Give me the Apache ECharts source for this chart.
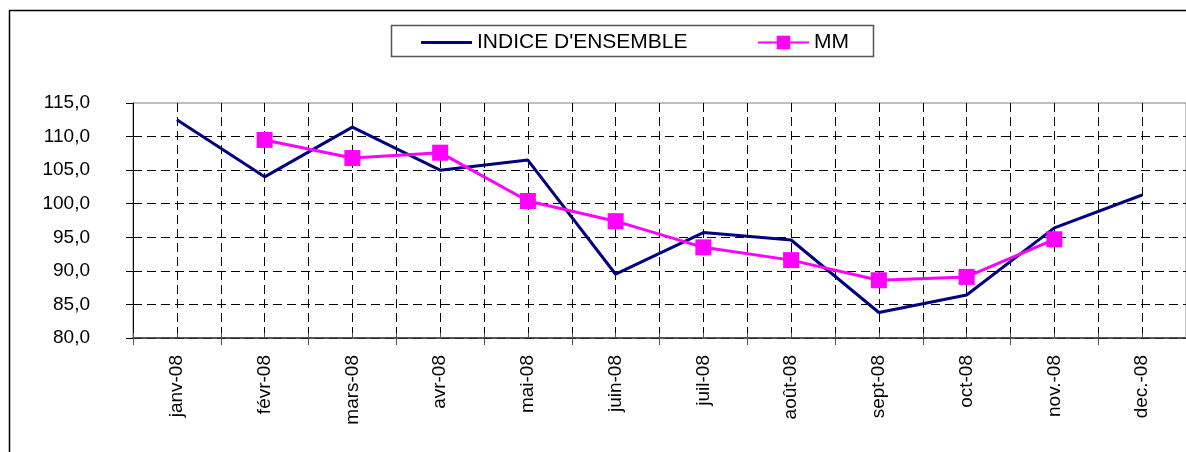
<!DOCTYPE html>
<html>
<head>
<meta charset="utf-8">
<script src="https://cdn.jsdelivr.net/npm/echarts@6/dist/echarts.min.js"></script>
<style>
  html, body { margin: 0; padding: 0; background: #fff; }
  #main { width: 1186px; height: 452px; }
</style>
</head>
<body>
<div id="main"></div>
<script>
  // mois
  var months = ['janv-08', 'févr-08', 'mars-08', 'avr-08', 'mai-08', 'juin-08',
                'juil-08', 'août-08', 'sept-08', 'oct-08', 'nov.-08', 'dec.-08'];
  // indice d'ensemble
  var indice = [112.5, 104.0, 111.4, 105.0, 106.5, 89.5, 95.7, 94.6, 83.8, 86.4, 96.4, 101.3];
  // moyenne mobile (pas de valeur aux extrémités)
  var mm = [null, 109.5, 106.8, 107.6, 100.4, 97.4, 93.5, 91.6, 88.6, 89.1, 94.7, null];
  var yTicks = { min: 80, max: 115, step: 5 };

  var font = "'Liberation Sans', Arial, sans-serif";
  var chart = echarts.init(document.getElementById('main'));

  var option = {
    animation: false,
    textStyle: { fontFamily: font },
    graphic: [
      {
        type: 'rect',
        shape: { x: 9.5, y: 10.5, width: 1200, height: 480 },
        style: { fill: 'none', stroke: '#000', lineWidth: 1.5 },
        silent: true
      },
      {
        type: 'rect',
        shape: { x: 391.5, y: 25.5, width: 482, height: 31 },
        style: { fill: 'none', stroke: '#555', lineWidth: 1.5 },
        silent: true
      }
    ],
    legend: [
      {
        // trait simple, sans symbole
        data: [{ name: "INDICE D'ENSEMBLE", icon: 'rect' }],
        left: 421, top: 32, padding: 0,
        itemWidth: 51, itemHeight: 3,
        textStyle: { fontSize: 21, color: '#000', fontFamily: font }
      },
      {
        data: ['MM'],
        left: 757, top: 32, padding: 0,
        itemWidth: 51, itemHeight: 17,
        textStyle: { fontSize: 21, color: '#000', fontFamily: font }
      }
    ],
    grid: {
      left: 133, top: 103, width: 1059, height: 235,
      show: true, borderColor: '#808080', borderWidth: 1,
      containLabel: false
    },
    xAxis: [
      {
        type: 'category',
        data: months,
        boundaryGap: true,
        axisLine: { lineStyle: { color: '#333', width: 1.5 } },
        axisTick: { show: true, interval: 0, length: 7, lineStyle: { color: '#555' } },
        axisLabel: {
          interval: 0, rotate: 90, margin: 17,
          fontSize: 19, color: '#000', fontFamily: font
        },
        splitLine: { show: false }
      },
      {
        // demi-graduations : lignes pointillées au milieu et aux bords des mois
        type: 'value',
        min: 0, max: months.length * 2, interval: 1,
        position: 'bottom',
        axisLine: { show: false },
        axisLabel: { show: false },
        axisTick: { show: true, inside: true, length: 5, lineStyle: { color: '#555' } },
        splitLine: { show: true, showMinLine: false, lineStyle: { color: '#000', type: [9, 5], width: 1 } }
      }
    ],
    yAxis: {
      type: 'value',
      min: yTicks.min, max: yTicks.max, interval: yTicks.step,
      axisLine: { show: true, lineStyle: { color: '#000', width: 1 } },
      axisTick: { show: true, length: 7, lineStyle: { color: '#000' } },
      axisLabel: {
        margin: 43, fontSize: 19, color: '#000', fontFamily: font,
        formatter: function (v) { return v.toFixed(1).replace('.', ','); }
      },
      splitLine: { show: true, showMaxLine: false, lineStyle: { color: '#000', type: [9, 5], width: 1 } }
    },
    series: [
      {
        name: "INDICE D'ENSEMBLE",
        type: 'line',
        xAxisIndex: 0,
        data: indice,
        symbol: 'none',
        lineStyle: { color: '#000080', width: 3 },
        itemStyle: { color: '#000080' },
        z: 3
      },
      {
        name: 'MM',
        type: 'line',
        xAxisIndex: 0,
        data: mm,
        symbol: 'rect',
        symbolSize: 16,
        lineStyle: { color: '#FF00FF', width: 3 },
        itemStyle: { color: '#FF00FF' },
        z: 4
      }
    ]
  };

  option && chart.setOption(option);
</script>
</body>
</html>
